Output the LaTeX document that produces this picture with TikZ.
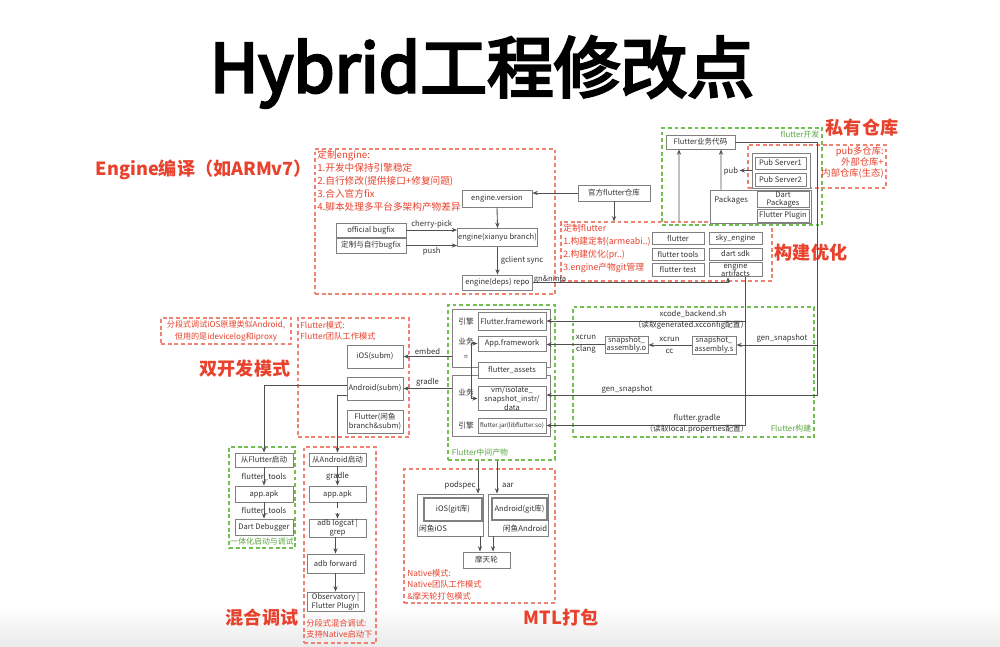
\documentclass[tikz,border=0pt]{standalone}
\usepackage{fontspec}
\setmainfont{Noto Sans CJK SC}
\newfontface\fuentetitulo[FakeBold=4]{Noto Sans CJK SC}
\usepackage{xcolor}
\usepackage{tikz}
\usetikzlibrary{shapes, arrows, positioning}
\usetikzlibrary{arrows.meta, calc}

\definecolor{rojo}{HTML}{E8412C}
\definecolor{rojoclaro}{HTML}{F08272}
\definecolor{verde}{HTML}{72BF52}
\definecolor{verdeosc}{HTML}{5BA642}
\definecolor{gris}{HTML}{808080}
\definecolor{gristrazo}{HTML}{505050}
\definecolor{texto}{HTML}{333333}

\newcommand{\tam}[2]{\fontsize{#1}{#2}\selectfont}

\tikzset{
  caja/.style 2 args={draw=gris, fill=white, line width=0.55pt, inner sep=0pt,
    align=center, text=texto, font=\tam{4.3}{4.9},
    minimum width=#1*0.02cm, minimum height=#2*0.02cm},
  marcorojo/.style 2 args={draw=rojoclaro, line width=0.6pt, dash pattern=on 2.2pt off 1.6pt,
    inner sep=0pt, minimum width=#1*0.02cm, minimum height=#2*0.02cm},
  marcoverde/.style 2 args={draw=verde, line width=0.6pt, dash pattern=on 2.2pt off 1.6pt,
    inner sep=0pt, minimum width=#1*0.02cm, minimum height=#2*0.02cm},
  seccion/.style={text=rojo, font=\tam{10.3}{12}\bfseries, inner sep=0pt},
  nota/.style={text=rojo, font=\tam{5.3}{7.4}, align=left, anchor=north west, inner sep=0pt},
  notaverde/.style={text=verdeosc, font=\tam{4.5}{5}, inner sep=0pt},
  etiq/.style={text=texto, font=\tam{4.4}{5}, inner sep=0.6pt},
  trazo/.style={draw=gristrazo, line width=0.5pt},
  flecha/.style={trazo, ->},
}

\begin{document}
\begin{tikzpicture}[x=0.02cm, y=-0.02cm, >={Stealth[length=3pt, width=2.4pt]}]
    \useasboundingbox (0,0) rectangle (1000,646);
    \fill[white] (0,0) rectangle (1000,646);
    \fill[top color=white, bottom color=black!8] (0,605) rectangle (1000,646);

    % 标题
    \node (titulo) at (482,72) {\fuentetitulo\tam{38}{42}Hybrid工程修改点};

    % 各部分标题
    \node[seccion] (sengine) at (204,170) {Engine编译（如ARMv7）};
    \node[seccion] (spriv) at (862,128) {私有仓库};
    \node[seccion] (sopt) at (811,253) {构建优化};
    \node[seccion] (sdual) at (245,369) {双开发模式};
    \node[seccion] (smix) at (262,618) {混合调试};
    \node[seccion] (smtl) at (561,618) {MTL打包};

    % 虚线区域
    \node[marcorojo={240}{145}] (fengine) at (435,221.5) {};
    \node[marcorojo={211}{59}] (fflutter) at (666.5,251.5) {};
    \node[marcorojo={138}{43}] (fpub) at (817,166.5) {};
    \node[marcorojo={130}{26}] (fseg) at (226,331) {};
    \node[marcorojo={111}{119}] (fmodo) at (353.5,377.5) {};
    \node[marcorojo={72}{196}] (fmix) at (340,545) {};
    \node[marcorojo={151}{134}] (fnative) at (479.5,536) {};
    \node[marcoverde={160}{97}] (fdev) at (742,176.5) {};
    \node[marcoverde={107}{155}] (fmid) at (501.5,382.5) {};
    \node[marcoverde={241}{130}] (fbuild) at (693.5,372) {};
    \node[marcoverde={66}{101}] (fone) at (262,497.5) {};

    % 说明文字
    \node[nota, font=\tam{5.5}{7.4}] (nengine) at (317,150) {定制engine:\\1.开发中保持引擎稳定\\2.自行修改(提供接口+修复问题)\\3.合入官方fix\\4.脚本处理多平台多架构产物差异};
    \node[nota, font=\tam{5.0}{7.4}] (nflutter) at (563,224) {定制flutter\\1.构建定制(armeabi..)\\2.构建优化(pr..)\\3.engine产物git管理};
    \node[nota, font=\tam{5.3}{6.4}, align=right, anchor=north east] (npub) at (884,146) {pub多仓库:\\外部仓库+\\内部仓库(生态)};
    \node[nota, font=\tam{4.6}{6.8}, align=center, anchor=center] (nseg) at (226,331) {分段式调试iOS原理类似Android,\\但用的是idevicelog和iproxy};
    \node[nota, font=\tam{4.7}{6.5}] (nmodo) at (300,321) {Flutter模式:\\Flutter团队工作模式};
    \node[nota, font=\tam{4.7}{6.5}] (nnative) at (407,569) {Native模式:\\Native团队工作模式\\\&摩天轮打包模式};
    \node[nota, font=\tam{4.7}{6.3}] (nmix) at (306,619) {分段式混合调试:\\支持Native启动下};

    \node[notaverde] (ldev) at (800,134) {flutter开发};
    \node[notaverde] (lmid) at (480,453) {Flutter中间产物};
    \node[notaverde] (lbuild) at (791,428) {Flutter构建};
    \node[notaverde] (lone) at (262,541) {一体化启动与调试};

    % Engine
    \node[caja={70}{17}] (version) at (497,198.5) {engine.version};
    \node[caja={72}{16}] (oficial) at (614,193) {官方flutter仓库};
    \node[caja={70}{14}] (bugfix) at (371,230) {official bugfix};
    \node[caja={70}{15}] (mibugfix) at (371,245.5) {定制与自行bugfix};
    \node[caja={80}{18}] (xianyu) at (497.5,237.5) {engine(xianyu branch)};
    \node[caja={70}{15}] (deps) at (497.5,282.5) {engine(deps) repo};

    % flutter开发 / 私有仓库
    \node[caja={69}{14}] (negocio) at (700.5,142) {Flutter业务代码};
    \node[caja={58}{35}] (servidores) at (781,170.5) {};
    \node[caja={51}{12}] (pub1) at (780.5,163) {Pub Server1};
    \node[caja={51}{13}] (pub2) at (780.5,179.5) {Pub Server2};
    \node[etiq] (pub) at (731,171.5) {pub};
    \node[caja={101}{33}] (paquetes) at (760.5,206.5) {};
    \node[etiq, anchor=west] (lpaq) at (713,200) {Packages};
    \node[caja={52}{15}, font=\tam{4.3}{4.6}] (dart) at (783,199.5) {Dart\\Packages};
    \node[caja={52}{13}] (plugin) at (783,215.5) {Flutter Plugin};

    % 定制flutter
    \node[caja={52}{12}] (flutter) at (678,238) {flutter};
    \node[caja={53}{12}] (sky) at (735.5,238) {sky\_engine};
    \node[caja={52}{12}] (tools) at (678,254) {flutter tools};
    \node[caja={53}{12}] (sdk) at (735.5,254) {dart sdk};
    \node[caja={52}{13}] (test) at (678,269.5) {flutter test};
    \node[caja={53}{13}] (artefactos) at (735.5,269.5) {engine\\artifacts};

    % Flutter中间产物
    \node[caja={98}{58}] (sup) at (501,338) {};
    \node[caja={98}{61}] (inf) at (501,405.5) {};
    \node[caja={68}{18}] (fframework) at (512,321) {Flutter.framework};
    \node[caja={68}{15}] (aframework) at (512,343.5) {App.framework};
    \node[caja={68}{16}] (assets) at (512,370) {flutter\_assets};
    \node[caja={68}{21}] (vm) at (512,398.5) {vm/isolate\_\\snapshot\_instr/\\data};
    \node[caja={68}{15}, font=\tam{3.5}{4}] (jar) at (512,425.5) {flutter.jar(libflutter.so)};
    \node[etiq] (motor1) at (466,322) {引擎};
    \node[etiq] (negocio1) at (466,342) {业务};
    \node[etiq] (igual) at (466,357) {=};
    \node[etiq] (negocio2) at (466,393) {业务};
    \node[etiq] (motor2) at (466,426) {引擎};

    % Flutter构建
    \node[caja={43}{17}] (sao) at (626.5,344.5) {snapshot\_\\assembly.o};
    \node[caja={44}{18}] (sas) at (714,345) {snapshot\_\\assembly.s};
    \node[etiq] (gen1) at (782,338) {gen\_snapshot};
    \node[etiq] (gen2) at (627,389) {gen\_snapshot};
    \node[etiq, align=center, font=\tam{4.4}{6.8}] (xcc) at (669.5,345) {xcrun\\cc};
    \node[etiq, align=center, font=\tam{4.4}{6.8}] (xclang) at (586,344.5) {xcrun\\clang};
    \node[etiq] (xcode) at (693,314) {xcode\_backend.sh};
    \node[etiq] (xconf) at (691,325) {（读取generated.xcconfig配置）};
    \node[etiq] (gradlefile) at (697,418) {flutter.gradle};
    \node[etiq] (gconf) at (697,429.5) {（读取local.properties配置）};

    % 双开发模式
    \node[caja={56}{23}] (ios) at (375,356.5) {iOS(subm)};
    \node[caja={56}{23}] (android) at (375,388.5) {Android(subm)};
    \node[caja={56}{23}] (xianyuflutter) at (375,421.5) {Flutter(闲鱼\\branch\&subm)};

    % 混合调试
    \node[caja={58}{14}] (desdeflutter) at (264,460) {从Flutter启动};
    \node[caja={58}{16}] (apk1) at (264,494) {app.apk};
    \node[caja={58}{16}] (debugger) at (264,527) {Dart Debugger};
    \node[caja={57}{13}] (desdeandroid) at (337.5,459.5) {从Android启动};
    \node[caja={57}{16}] (apk2) at (337.5,494) {app.apk};
    \node[caja={57}{18}] (logcat) at (337.5,528) {adb logcat |\\grep};
    \node[caja={57}{19}] (forward) at (335.5,563.5) {adb forward};
    \node[caja={57}{19}] (observatory) at (335.5,601.5) {Observatory |\\Flutter Plugin};

    % MTL打包
    \node[caja={66}{42}] (xyios) at (450,515) {};
    \node[caja={58}{23}, line width=1pt] (gitios) at (453,509.5) {iOS(git库)};
    \node[etiq] (lios) at (433,529) {闲鱼iOS};
    \node[caja={60}{42}] (xyandroid) at (518,515) {};
    \node[caja={55}{22}, line width=1pt] (gitandroid) at (519.5,509) {Android(git库)};
    \node[etiq] (landroid) at (525,529) {闲鱼Android};
    \node[caja={47}{16}] (motianlun) at (486.5,560) {摩天轮};

    % 连线: engine
    \draw[flecha] (oficial.west) -- (oficial.west -| version.east);
    \draw[flecha] (oficial.south) -- (oficial.south |- fflutter.north);
    \draw[flecha] (version.south) -- (xianyu.north);
    \draw[flecha] (bugfix.east) -- (bugfix.east -| xianyu.west) node[etiq, midway, above=0.3pt] {cherry-pick};
    \draw[flecha] (mibugfix.east) -- (mibugfix.east -| xianyu.west) node[etiq, midway, below=0.3pt] {push};
    \draw[flecha] (xianyu.south) -- (deps.north) node[etiq, midway, right=1pt] {gclient sync};
    \draw[flecha] (deps.east) -| ($(artefactos.south)+(-7.5,0)$);
    \node[etiq, anchor=south west, inner sep=0pt] (gn) at ($(deps.east)+(0.5,1)$) {gn\&ninja};

    % 连线: flutter开发
    \draw[flecha] ($(fflutter.north)+(12.5,0)$) -- ($(negocio.south)+(-21.5,0)$);
    \draw[flecha] ($(paquetes.north)+(-39.5,0)$) -- ($(negocio.south)+(20.5,0)$);
    \draw[flecha] (servidores.west) -- (servidores.west -| pub.east);

    % 连线: Flutter构建 -> 中间产物
    \coordinate (esquina) at (817,395);
    \draw[flecha] (negocio.east) -| (esquina) -- (esquina -| vm.east);
    \draw[flecha] (esquina |- sas.east) -- (sas.east);
    \draw[flecha] (sas.west) -- (sas.west -| sao.east);
    \draw[flecha] (sao.west) -- (sao.west -| aframework.east);
    \draw[flecha] ($(artefactos.south)+(9.5,0)$) |- (fframework.east);
    \draw[flecha] ($(artefactos.south)+(9.5,0)$) |- (jar.east);
    \draw[trazo, <->] (aframework.west) -- ++(-6,0) |- (vm.west);

    % 连线: 双开发模式
    \draw[flecha] (ios.east -| sup.west) -- (ios.east) node[etiq, midway, above=0.5pt] {embed};
    \draw[flecha] (android.east -| inf.west) -- (android.east) node[etiq, midway, above=0.5pt] {gradle};
    \draw[flecha] ($(android.west)+(0,-3.5)$) -| (desdeflutter.north);
    \draw[flecha] ($(android.west)+(0,6.5)$) -| (desdeandroid.north);

    % 连线: 混合调试
    \draw[flecha] (desdeflutter.south) -- (apk1.north) node[etiq, midway] {flutter\_tools};
    \draw[flecha] (apk1.south) -- (debugger.north) node[etiq, midway] {flutter\_tools};
    \draw[flecha] (desdeandroid.south) -- (apk2.north) node[etiq, midway] {gradle};
    \draw[flecha, dashed] (apk2.south) -- (logcat.north);
    \draw[flecha] (forward.north |- logcat.south) -- (forward.north);
    \draw[flecha] (forward.south) -- (observatory.north);

    % 连线: MTL打包
    \coordinate (podspec) at ($(fmid.south)+(-23.5,0)$);
    \draw[flecha] (podspec) -- (podspec |- xyios.north) node[etiq, pos=0.74, left=0.5pt] {podspec};
    \coordinate (aar) at ($(fmid.south)+(-4.5,0)$);
    \draw[flecha] (aar) -- (aar |- xyandroid.north) node[etiq, pos=0.74, right=2pt] {aar};
    \coordinate (salidaios) at ($(xyios.south)+(30,0)$);
    \draw[flecha] (salidaios) -- (salidaios |- motianlun.north);
    \coordinate (salidaandroid) at ($(xyandroid.south)+(-25,0)$);
    \draw[flecha] (salidaandroid) -- (salidaandroid |- motianlun.north);
\end{tikzpicture}
\end{document}
